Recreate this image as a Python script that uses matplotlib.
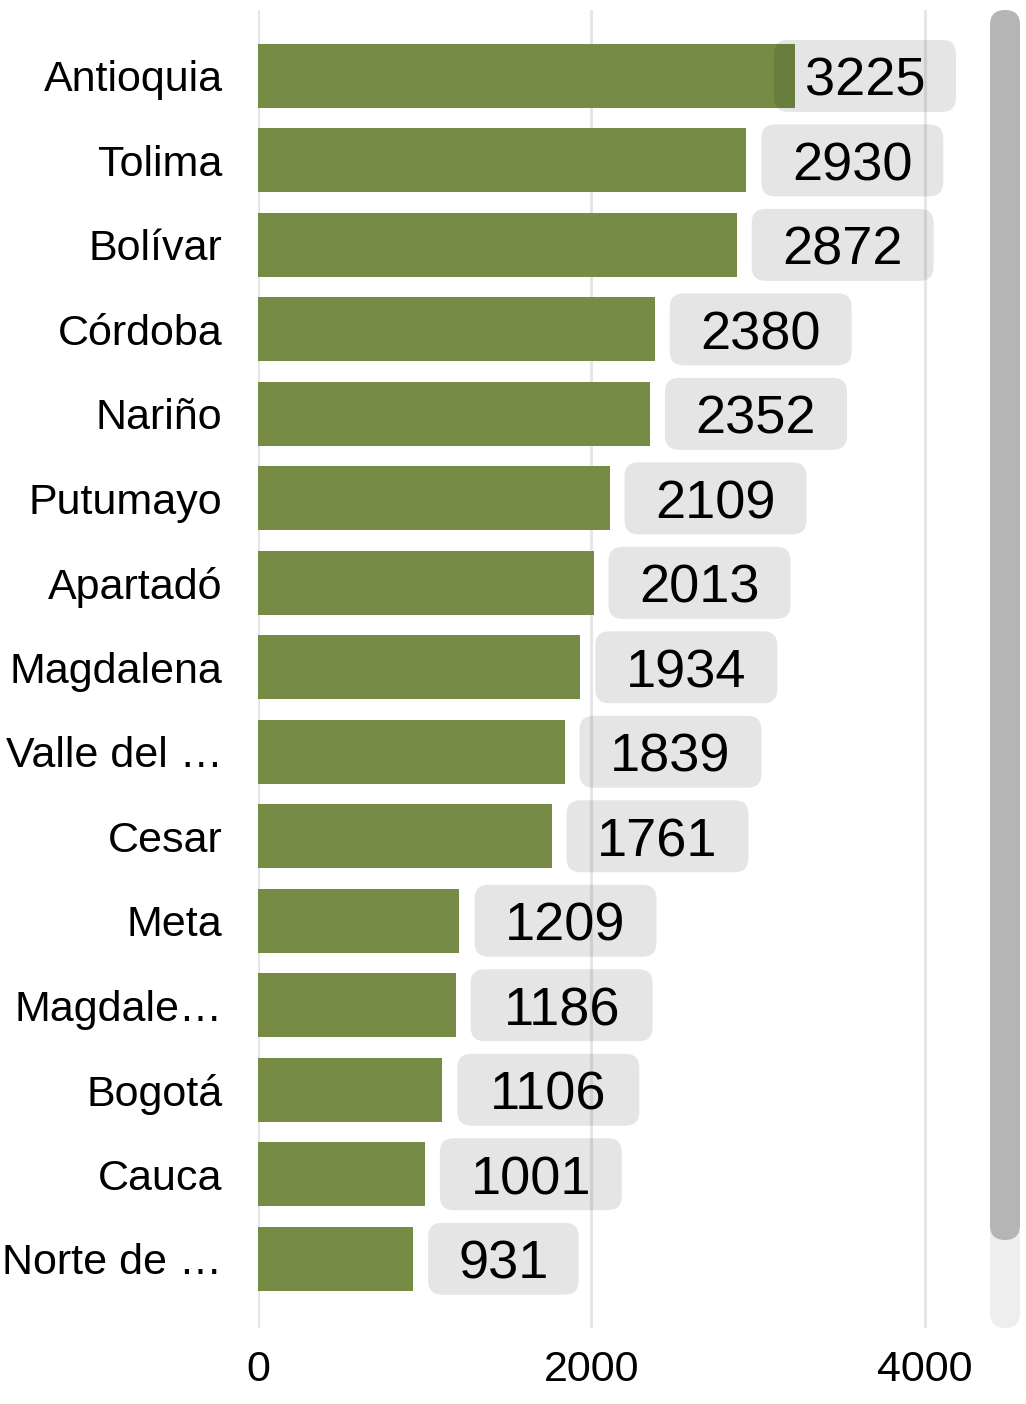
import matplotlib.pyplot as plt
from matplotlib.patches import FancyBboxPatch
from matplotlib.transforms import ScaledTranslation

plt.rcParams['font.family'] = ['Liberation Sans', 'DejaVu Sans']

departments = ['Antioquia', 'Tolima', 'Bolívar', 'Córdoba', 'Nariño', 'Putumayo',
               'Apartadó', 'Magdalena', 'Valle del …', 'Cesar', 'Meta', 'Magdale…',
               'Bogotá', 'Cauca', 'Norte de …']
counts = [3225, 2930, 2872, 2380, 2352, 2109, 2013, 1934, 1839, 1761, 1209, 1186,
          1106, 1001, 931]
ticks = [0, 2000, 4000]

bar_color = '#768c46'
xmax = 4200

fig = plt.figure(figsize=(10.26, 14.04), dpi=100)
ax = fig.add_axes([258 / 1026, 76 / 1404, 700 / 1026, 1318 / 1404])

pos = list(range(len(departments)))
ax.barh(pos, counts, height=0.757, color=bar_color, zorder=2)

ax.set_xlim(0, xmax)
ax.set_ylim(len(departments) - 0.18, -0.78)
ax.set_yticks(pos)
ax.set_yticklabels(departments, fontsize=31)
ax.set_xticks(ticks)
ax.set_xticklabels([str(t) for t in ticks], fontsize=31)
ax.tick_params(axis='y', length=0, pad=25.5)
ax.tick_params(axis='x', length=0, pad=16)
ax.grid(axis='x', color='#e6e6e6', linewidth=2.2, zorder=0)
for s in ax.spines.values():
    s.set_visible(False)

# value labels in rounded boxes (sizes in inches at 100 dpi)
px_per_unit = 700 / xmax
box_h, gap = 0.72, 0.15
for i, v in enumerate(counts):
    box_w = 0.56 + 0.315 * len(str(v))
    limit = xmax - (box_w + gap + 0.02) * 100 / px_per_unit
    x = min(v, limit)
    tr = fig.dpi_scale_trans + ScaledTranslation(x, i, ax.transData)
    box = FancyBboxPatch((gap, -box_h / 2), box_w, box_h,
                         boxstyle='round,pad=0,rounding_size=0.14',
                         transform=tr, facecolor=(0, 0, 0, 0.1),
                         edgecolor='none', zorder=3, clip_on=False)
    ax.add_patch(box)
    ax.text(gap + box_w / 2, -0.06, str(v), transform=tr, ha='center', va='center',
            fontsize=39, color='black', zorder=4)

# scrollbar on the right
track = FancyBboxPatch((9.90, 0.76), 0.30, 13.18, boxstyle='round,pad=0,rounding_size=0.15',
                       transform=fig.dpi_scale_trans, facecolor='#eeeeee', edgecolor='none')
thumb = FancyBboxPatch((9.90, 1.64), 0.30, 12.30, boxstyle='round,pad=0,rounding_size=0.15',
                       transform=fig.dpi_scale_trans, facecolor='#b5b5b5', edgecolor='none')
fig.patches.extend([track, thumb])

fig.savefig('out.png', dpi=100)
